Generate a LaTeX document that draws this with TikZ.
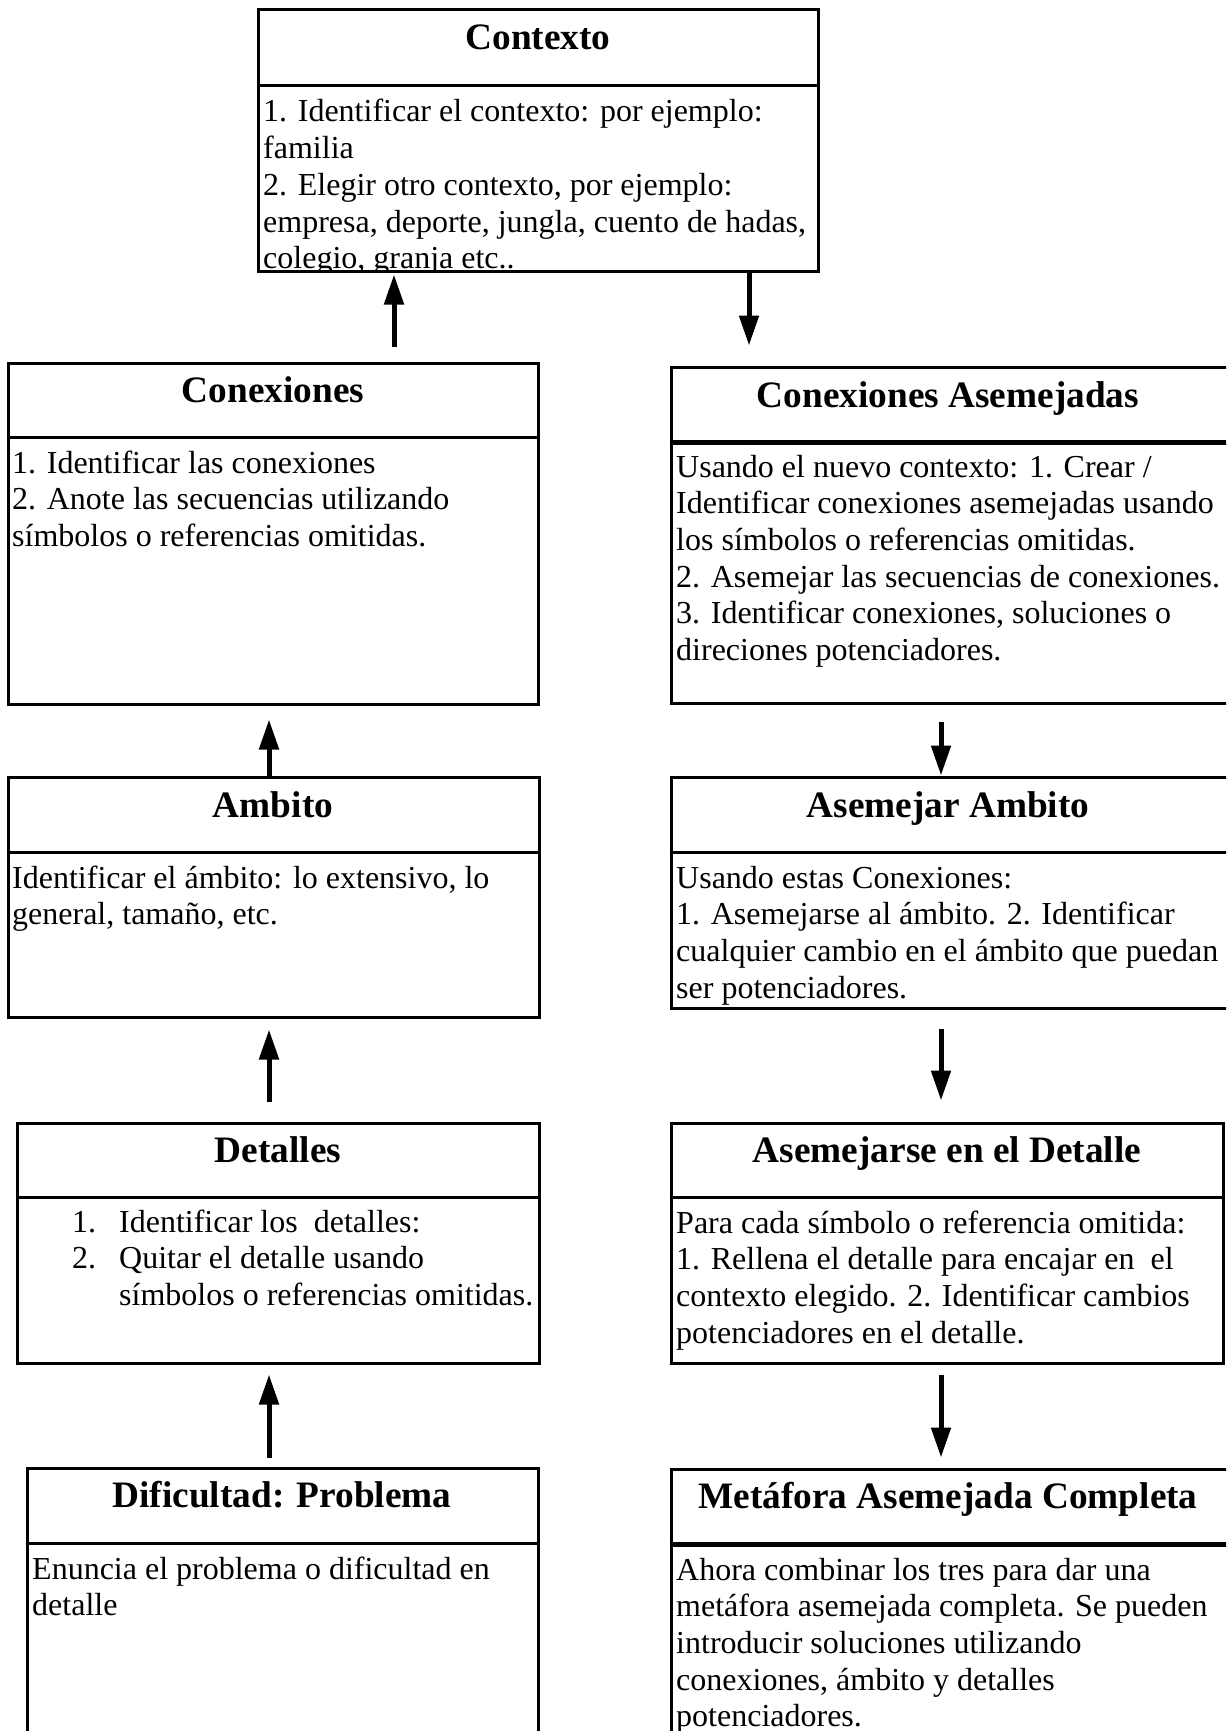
\documentclass[tikz,border=0pt]{standalone}
\usepackage{fontspec}
\setmainfont{Liberation Serif}
\usetikzlibrary{arrows.meta,calc}
\newcommand{\bodyfnt}{\fontsize{32pt}{36.7pt}\selectfont}
\newcommand{\titlefnt}{\fontsize{37.3pt}{40pt}\selectfont\bfseries}
\tikzset{
  boxnode/.style={draw=black, line width=3pt, rectangle, inner sep=0pt, fill=none},
  divline/.style={line width=3pt},
  thickdiv/.style={line width=4.5pt},
  titletext/.style={font=\titlefnt, inner sep=0pt, anchor=base},
  bodytext/.style={font=\bodyfnt, inner sep=0pt, anchor=base west},
  arr/.style={line width=5pt, -{Triangle[length=30pt,width=19pt]}}
}
\begin{document}
\begin{tikzpicture}[x=1pt,y=-1pt]
\useasboundingbox (0,0) rectangle (1226,1731);
\clip (0,0) rectangle (1226,1731);
\fill[white] (0,0) rectangle (1226,1731);

% column coordinates for arrows
\coordinate (a1) at (394,0);
\coordinate (a2) at (749,0);
\coordinate (a3) at (269,0);
\coordinate (a4) at (941,0);

% ---------- body texts ----------
\begin{scope}
\clip (258,87) rectangle (818,271);
\node[bodytext] (ctxb) at (263,122) {\parbox[t]{600pt}{\raggedright
1. Identificar el contexto: por ejemplo:\\
familia\\
2. Elegir otro contexto, por ejemplo:\\
empresa, deporte, jungla, cuento de hadas,\\
colegio, granja etc..}};
\end{scope}

\node[bodytext] (conexb) at (12,473) {\parbox[t]{600pt}{\raggedright
1. Identificar las conexiones\\
2. Anote las secuencias utilizando\\
símbolos o referencias omitidas.}};

\node[bodytext] (cab) at (676,477) {\parbox[t]{600pt}{\raggedright
Usando el nuevo contexto: 1. Crear /\\
Identificar conexiones asemejadas usando\\
los símbolos o referencias omitidas.\\
2. Asemejar las secuencias de conexiones.\\
3. Identificar conexiones, soluciones o\\
direciones potenciadores.}};

\node[bodytext] (ambb) at (12,888) {\parbox[t]{600pt}{\raggedright
Identificar el ámbito: lo extensivo, lo\\
general, tamaño, etc.}};

\node[bodytext] (aab) at (676,888) {\parbox[t]{600pt}{\raggedright
Usando estas Conexiones:\\
1. Asemejarse al ámbito. 2. Identificar\\
cualquier cambio en el ámbito que puedan\\
ser potenciadores.}};

\node[bodytext] (detb) at (72,1232) {\parbox[t]{600pt}{\raggedright
\makebox[47pt][l]{1.}Identificar los\ \ detalles:\\
\makebox[47pt][l]{2.}Quitar el detalle usando\\
\hspace*{47pt}símbolos o referencias omitidas.}};

\node[bodytext] (adb) at (676,1233) {\parbox[t]{600pt}{\raggedright
Para cada símbolo o referencia omitida:\\
1. Rellena el detalle para encajar en\ \ el\\
contexto elegido. 2. Identificar cambios\\
potenciadores en el detalle.}};

\node[bodytext] (difb) at (32,1579) {\parbox[t]{600pt}{\raggedright
Enuncia el problema o dificultad en\\
detalle}};

\node[bodytext] (metb) at (676,1580) {\parbox[t]{600pt}{\raggedright
Ahora combinar los tres para dar una\\
metáfora asemejada completa. Se pueden\\
introducir soluciones utilizando\\
conexiones, ámbito y detalles\\
potenciadores.}};

% ---------- boxes ----------
\node[boxnode, minimum width=560pt, minimum height=261pt] (ctx) at (538,140.5) {};
\node[boxnode, minimum width=530pt, minimum height=341pt] (conex) at (273,533.5) {};
\node[boxnode, minimum width=558pt, minimum height=336pt] (ca) at (950,535) {};
\node[boxnode, minimum width=531pt, minimum height=240pt] (amb) at (273.5,897) {};
\node[boxnode, minimum width=558pt, minimum height=231pt] (aa) at (950,892.5) {};
\node[boxnode, minimum width=522pt, minimum height=240pt] (det) at (278,1243) {};
\node[boxnode, minimum width=552pt, minimum height=240pt] (ad) at (947,1243) {};
\node[boxnode, minimum width=511pt, minimum height=272pt] (dif) at (282.5,1604) {};
\node[boxnode, minimum width=558pt, minimum height=271pt] (met) at (950,1604.5) {};

% ---------- dividers ----------
\draw[divline] ($(ctx.north west)+(0,77)$) -- ($(ctx.north east)+(0,77)$);
\draw[divline] ($(conex.north west)+(0,76)$) -- ($(conex.north east)+(0,76)$);
\draw[thickdiv] ($(ca.north west)+(0,77)$) -- ($(ca.north east)+(0,77)$);
\draw[divline] ($(amb.north west)+(0,77)$) -- ($(amb.north east)+(0,77)$);
\draw[divline] ($(aa.north west)+(0,77)$) -- ($(aa.north east)+(0,77)$);
\draw[divline] ($(det.north west)+(0,76)$) -- ($(det.north east)+(0,76)$);
\draw[divline] ($(ad.north west)+(0,76)$) -- ($(ad.north east)+(0,76)$);
\draw[divline] ($(dif.north west)+(0,77)$) -- ($(dif.north east)+(0,77)$);
\draw[thickdiv] ($(met.north west)+(0,77)$) -- ($(met.north east)+(0,77)$);

% ---------- titles ----------
\node[titletext] (ctxt) at (538,50) {Contexto};
\node[titletext] (conext) at (273,402) {Conexiones};
\node[titletext] (cat) at (948,407) {Conexiones Asemejadas};
\node[titletext] (ambt) at (273,817) {Ambito};
\node[titletext] (aat) at (948,817) {Asemejar Ambito};
\node[titletext] (dett) at (278,1162) {Detalles};
\node[titletext] (adt) at (947,1162) {Asemejarse en el Detalle};
\node[titletext] (dift) at (282,1507) {Dificultad: Problema};
\node[titletext] (mett) at (948,1508) {Metáfora Asemejada Completa};

% ---------- arrows ----------
\draw[arr] ($(conex.north -| a1)+(0,-15)$) -- ($(ctx.south -| a1)+(0,2)$);
\draw[arr] (ctx.south -| a2) -- ($(ca.north -| a2)+(0,-20)$);
\draw[arr] (amb.north -| a3) -- ($(conex.south -| a3)+(0,14)$);
\draw[arr] ($(ca.south -| a4)+(0,17)$) -- (aa.north -| a4);
\draw[arr] ($(det.north -| a3)+(0,-20)$) -- ($(amb.south -| a3)+(0,11)$);
\draw[arr] ($(aa.south -| a4)+(0,19)$) -- ($(ad.north -| a4)+(0,-21)$);
\draw[arr] ($(dif.north -| a3)+(0,-9)$) -- ($(det.south -| a3)+(0,10)$);
\draw[arr] ($(ad.south -| a4)+(0,10)$) -- ($(met.north -| a4)+(0,-10)$);
\end{tikzpicture}
\end{document}
